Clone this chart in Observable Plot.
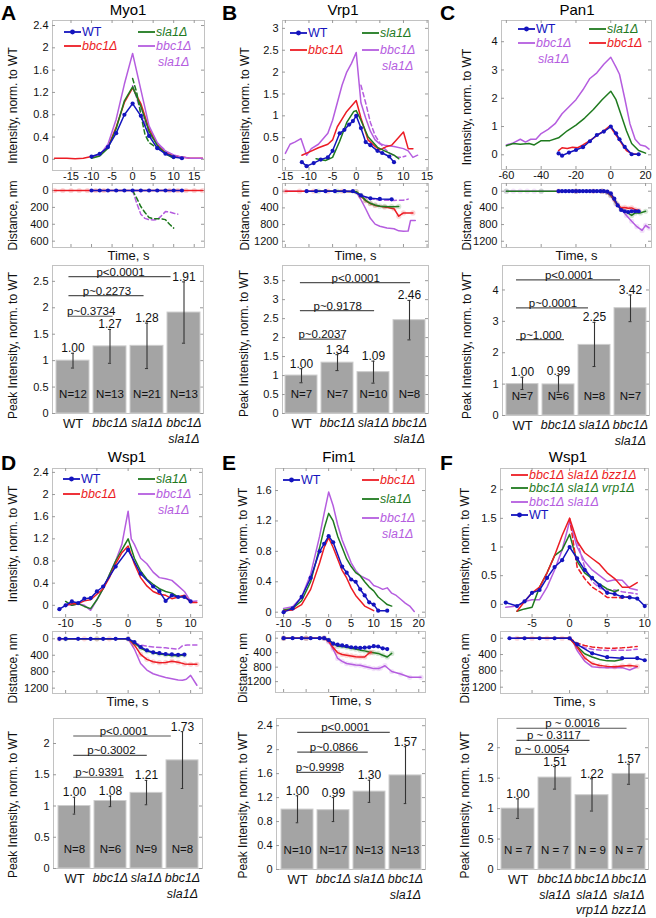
<!DOCTYPE html>
<html><head><meta charset="utf-8">
<script src="https://cdn.jsdelivr.net/npm/d3@7"></script>
<script src="https://cdn.jsdelivr.net/npm/@observablehq/plot@0.6"></script>
<style>
body{margin:0;background:#fff;}
#fig{position:relative;width:656px;height:918px;overflow:hidden;font-family:'Liberation Sans',Arial,sans-serif;background:#fff;}
.lbl{position:absolute;white-space:nowrap;line-height:1;}
</style></head><body><div id="fig"></div><script>
// ---------------- DATA ----------------
// Panel A: Myo1
const A_int_WT = [[-10,0.05],[-8,0.1],[-6,0.22],[-4,0.47],[-2,0.8],[0,1.0],[2,0.78],[4,0.42],[6,0.2],[8,0.1],[10,0.04],[12,0.02]];
const A_int_bbc1 = [[-19,0.02],[-16,0.02],[-14,0.01],[-12,0.02],[-10,0.05],[-8,0.08],[-6,0.22],[-4,0.58],[-2,1.02],[0,1.28],[2,1.0],[4,0.55],[6,0.26],[8,0.12],[10,0.07],[12,0.04],[14,0.02],[17,0.02]];
const A_int_sla1 = [[-10,0.02],[-8,0.06],[-6,0.2],[-4,0.55],[-2,1.05],[0,1.3],[2,0.95],[4,0.5],[6,0.25],[8,0.1],[10,0.02]];
const A_int_sla1_b = [[0,1.45],[1,1.2],[2,0.8],[3,0.45],[4,0.3],[6,0.2],[8,0.12],[10,0.04]];
const A_int_dbl = [[-10,0.03],[-8,0.08],[-6,0.27],[-4,0.72],[-2,1.35],[0,1.9],[2,1.25],[4,0.6],[6,0.3],[8,0.15],[10,0.08],[12,0.04],[14,0.02],[17,0.02]];
const A_int_dbl_b = [[0,1.32],[1,1.1],[2,0.85],[4,0.45],[6,0.28],[8,0.16]];
const A_dist_WT = [[-10,0],[-8,0],[-6,0],[-4,0],[-2,0],[0,0],[2,0],[4,0],[6,0],[8,0],[10,0],[12,0]];
const A_dist_bbc1 = [[-19,0],[-17,0],[-15,0],[-13,0],[-11,0],[-9,0],[-7,0],[9,0],[11,0],[13,0],[15,0],[17,0]];
const A_dist_sla1_b = [[0,0],[1,90],[2,190],[3,260],[4,320],[5,335],[6,335],[7,335],[8,345],[9,400],[10,445]];
const A_dist_dbl_b = [[0,0],[1,150],[2,280],[3,330],[4,345],[5,350],[6,345],[7,300],[8,250],[9,255],[10,270],[11,280]];
const A_cats = ["WT","bbc1Δ","sla1Δ","bbc1Δ\nsla1Δ"];
const A_peak = [1.00,1.27,1.28,1.91];
const A_lo = [0.86,0.95,0.85,1.33];
const A_hi = [1.14,1.59,1.71,2.49];
const A_N = ["N=12","N=13","N=21","N=13"];
const A_pText = ["p~0.3734","p~0.2273","p<0.0001"];
const A_pLevel = [1.84,2.23,2.59];

// Panel B: Vrp1
const B_int_WT = [[-11.5,-0.06],[-10.5,-0.15],[-9,-0.08],[-7.5,0.0],[-6,0.05],[-5,0.2],[-3.5,0.6],[-2.5,0.68],[-1.5,0.8],[-0.7,0.88],[0,1.0],[1,0.72],[2,0.4],[3,0.33],[4.5,0.2],[5.5,0.15],[7,0.07],[8,-0.06]];
const B_int_bbc1 = [[-11.5,0.1],[-10,0.17],[-8,0.27],[-6,0.35],[-5,0.45],[-4,0.75],[-2,1.1],[0,1.35],[1,0.95],[2.5,0.45],[4,0.3],[5,0.22],[6.5,0.3],[7.5,0.33],[8.5,0.45],[10,0.63],[11,0.25],[12,0.25]];
const B_int_sla1 = [[-8.5,0.02],[-6.5,-0.02],[-5,0.05],[-3.5,0.42],[-2,0.85],[-0.5,1.1],[0,1.12],[1,0.9],[2.5,0.52],[4.5,0.28],[6,0.2],[8,0.1],[9,0.02]];
const B_int_dbl = [[-15,0.14],[-14,0.35],[-13,0.4],[-11.7,0.48],[-10.5,0.1],[-9.5,0.25],[-8,0.35],[-6,0.6],[-5,0.9],[-4,1.3],[-3,1.7],[-2,2.0],[-1,2.2],[0,2.45],[1,1.3],[2,0.95],[3,0.65],[4,0.45],[5,0.36],[6,0.33],[8,0.3],[10,0.25],[11,0.2],[12,0.05],[13,0.1]];
const B_int_dbl_b = [[1,1.7],[2,1.3],[3,0.85],[4,0.55],[5,0.38],[6,0.25],[7,0.15],[8.5,0.06],[9.5,0.05],[10.5,0.08]];
const B_dist_WT = [[-10.5,0],[-8.5,0],[-6.5,0],[-4.5,0],[-2.5,0],[-0.7,0],[1,100],[3,170],[5,185],[7.5,195]];
const B_dist_bbc1 = [[-15,0],[-12,0],[-9,0],[-6,0],[-3,0],[0,10],[1,120],[2,230],[3,300],[4,340],[6,380],[8,420],[9,600],[10,520],[12,520]];
const B_dist_sla1 = [[-8,0],[-4,0],[0,10],[1,100],[2,220],[3,290],[4,330],[5,360],[6,365],[7.5,370],[9,365]];
const B_dist_dbl = [[-15,0],[-12,0],[-9,0],[-6,0],[-3,0],[0,20],[1,200],[2,420],[3,650],[4,790],[5,840],[6.5,880],[8,900],[9,950],[10,960],[11,955],[11.5,700],[12.5,700]];
const B_dist_dbl_b = [[0,20],[1,100],[2,150],[3,180],[4,200],[6,215],[8,220],[10,215],[11,190]];
const B_cats = ["WT","bbc1Δ","sla1Δ","bbc1Δ\nsla1Δ"];
const B_peak = [1.00,1.34,1.09,2.46];
const B_lo = [0.81,1.13,0.80,1.94];
const B_hi = [1.18,1.55,1.38,2.98];
const B_N = ["N=7","N=7","N=10","N=8"];
const B_pText = ["p~0.2037","p~0.9178","p<0.0001"];
const B_pLevel = [1.96,2.71,3.45];

// Panel C: Pan1
const C_int_WT = [[-30,0.05],[-28,-0.03],[-24,0.08],[-20,0.17],[-16,0.27],[-12,0.48],[-8,0.7],[-4,0.82],[0,1.0],[3,0.76],[5,0.55],[8,0.28],[12,0.02],[16,0.02]];
const C_int_bbc1 = [[-30,0.15],[-28,0.25],[-25,0.22],[-22,0.27],[-19,0.25],[-16,0.35],[-12,0.5],[-8,0.68],[-4,0.85],[-1,1.0],[0,0.97],[3,0.7],[6,0.42],[9,0.15],[12,0.04],[15,0.02]];
const C_int_sla1 = [[-60,0.32],[-56,0.4],[-52,0.37],[-47,0.4],[-44,0.35],[-40,0.5],[-35,0.5],[-30,0.6],[-25,0.85],[-20,1.05],[-15,1.3],[-10,1.6],[-5,1.95],[0,2.25],[3,1.95],[6,1.4],[9,0.85],[12,0.4],[16,0.15],[20,0.06]];
const C_int_dbl = [[-60,0.35],[-56,0.42],[-52,0.55],[-49,0.45],[-46,0.55],[-43,0.55],[-40,0.75],[-36,0.9],[-32,1.1],[-28,1.45],[-24,1.7],[-20,1.95],[-16,2.3],[-12,2.7],[-8,2.9],[-4,3.2],[0,3.45],[3,3.1],[5,2.85],[8,2.0],[11,1.1],[14,0.55],[17,0.35],[20,0.3],[22,0.2]];
const C_dist_WT = [[-30,0],[-28,0],[-26,0],[-24,0],[-22,0],[-20,0],[-18,0],[-16,0],[-14,0],[-12,0],[-10,0],[-8,0],[-6,0],[-4,0],[-2,10],[0,50],[2,180],[4,340],[6,450],[8,480],[10,500],[12,480],[14,480],[16,480]];
const C_dist_bbc1 = [[-30,0],[-20,0],[-10,0],[-5,0],[-2,20],[0,80],[2,200],[4,330],[6,400],[8,390],[10,410],[12,400],[14,440],[16,460]];
const C_dist_sla1 = [[-60,0],[-40,0],[-20,0],[-5,0],[-2,30],[0,100],[3,280],[6,430],[9,500],[12,580],[14,520],[17,520],[20,480]];
const C_dist_dbl = [[-60,0],[-56,0],[-52,0],[-48,0],[-44,0],[-40,0],[-20,0],[-5,0],[-2,30],[0,110],[3,300],[6,440],[9,580],[12,720],[15,850],[18,940],[20,820],[22,880]];
const C_cats = ["WT","bbc1Δ","sla1Δ","bbc1Δ\nsla1Δ"];
const C_peak = [1.00,0.99,2.25,3.42];
const C_lo = [0.83,0.74,1.56,2.99];
const C_hi = [1.22,1.27,2.97,3.84];
const C_N = ["N=7","N=6","N=8","N=7"];
const C_pText = ["p~1.000","p~0.0001","p<0.0001"];
const C_pLevel = [2.42,3.43,4.32];

// Panel D: Wsp1
const D_int_WT = [[-11,-0.07],[-10,0.0],[-9,0.07],[-8,0.04],[-7,0.12],[-6,0.13],[-5,0.25],[-4,0.34],[-2,0.7],[0,1.0],[2,0.57],[4,0.34],[5,0.25],[6,0.08],[7,0.18],[8,0.15],[9,0.15],[10,0.07]];
const D_int_bbc1 = [[-10,0.0],[-9,0.03],[-8,0.03],[-7,0.08],[-6,0.1],[-5,0.2],[-4,0.3],[-3,0.5],[-2,0.75],[-1,0.95],[0,1.07],[1,0.75],[2,0.5],[3,0.35],[4,0.25],[5,0.2],[6,0.18],[7,0.12],[8,0.15],[9,0.18],[10,0.05],[11,0.05]];
const D_int_sla1 = [[-10,0.07],[-9,0.0],[-8,0.03],[-7,-0.02],[-6,-0.06],[-5,0.1],[-4,0.3],[-3,0.55],[-2,0.8],[-1,1.0],[0,1.2],[1,0.85],[2,0.62],[3,0.47],[4,0.38],[5,0.3],[6,0.25],[7,0.22],[8,0.15],[9,0.17]];
const D_int_dbl = [[-10,0.02],[-9,0.0],[-8,0.03],[-7,0.0],[-6,-0.09],[-5,0.1],[-4,0.3],[-3,0.55],[-2,0.8],[-1,1.1],[0,1.7],[0.5,1.2],[1,1.1],[2,0.85],[3,0.75],[4,0.6],[5,0.5],[6,0.48],[7,0.45],[8,0.35],[9,0.25],[10,0.07],[11,0.08]];
const D_dist_WT = [[-11,0],[-10,0],[-8,0],[-6,0],[-4,0],[-2,0],[0,0],[1,80],[2,200],[3,280],[4,330],[5,350],[6,370],[7,380],[8,390],[9,385]];
const D_dist_bbc1 = [[-11,0],[-7,0],[-5,0],[-3,0],[0,0],[1,150],[2,380],[3,500],[4,560],[5,580],[6,575],[7,545],[8,570],[9,610],[10,620],[11,620]];
const D_dist_sla1 = [[-10,0],[-5,0],[0,0],[1,100],[2,230],[3,300],[4,340],[5,370],[6,390],[7,405],[8,410],[9,395]];
const D_dist_dbl = [[-10,0],[-5,0],[0,0],[1,250],[2,600],[3,760],[4,850],[5,900],[6,940],[7,970],[8,1000],[8.7,1010],[9.3,985],[10,890],[11,1130]];
const D_dist_dbl_b = [[0,10],[1,100],[2,150],[3,180],[4,200],[6,220],[8,255],[8.7,170],[9.5,150],[11,150]];
const D_cats = ["WT","bbc1Δ","sla1Δ","bbc1Δ\nsla1Δ"];
const D_peak = [1.00,1.08,1.21,1.73];
const D_lo = [0.87,0.99,1.02,1.28];
const D_hi = [1.14,1.16,1.41,2.19];
const D_N = ["N=8","N=6","N=9","N=8"];
const D_pText = ["p~0.9391","p~0.3002","p<0.0001"];
const D_pLevel = [1.46,1.81,2.12];

// Panel E: Fim1
const E_int_WT = [[-10,0.0],[-8,0.05],[-6,0.2],[-4,0.45],[-2,0.8],[-1,0.9],[0,1.0],[1,0.92],[3,0.6],[4,0.52],[5,0.43],[6,0.4],[7,0.3],[8,0.22],[9,0.13],[10,0.1],[11,0.02],[13,0.02]];
const E_int_bbc1 = [[-10,0.02],[-8,0.03],[-6,0.1],[-4,0.3],[-2,0.65],[-1,0.85],[0,0.98],[1,0.85],[2,0.7],[3,0.55],[4,0.45],[5,0.32],[6,0.22],[7,0.15],[8,0.08],[9,0.05],[10,0.02]];
const E_int_sla1 = [[-10,0.03],[-8,0.05],[-6,0.15],[-4,0.4],[-2,0.85],[-1,1.1],[0,1.3],[1,1.2],[2,1.0],[3,0.85],[4,0.7],[5,0.6],[6,0.52],[7,0.48],[8,0.4],[9,0.33],[10,0.28],[11,0.2],[12,0.15],[13,0.1],[14,0.08]];
const E_int_dbl = [[-10,0.05],[-8,0.07],[-6,0.2],[-4,0.5],[-2,1.0],[-1,1.3],[0,1.58],[1,1.4],[2,1.15],[3,0.95],[4,0.8],[5,0.65],[6,0.55],[7,0.48],[8,0.45],[9,0.42],[10,0.35],[11,0.33],[12,0.3],[13,0.32],[14,0.25],[15,0.22],[16,0.17],[17,0.12],[18,0.08],[19,0.01]];
const E_dist_WT = [[-10,0],[-8,0],[-6,0],[-4,0],[-2,0],[-1,0],[0,50],[1,150],[2,180],[3,200],[4,220],[5,250],[6,260],[7,270],[8,260],[9,250],[10,220],[11,230],[12,280],[13,300]];
const E_dist_bbc1 = [[-10,0],[-5,0],[-1,0],[0,80],[1,260],[2,400],[3,450],[4,470],[5,490],[6,510],[7,520],[8,520],[9,410],[9.5,390]];
const E_dist_sla1 = [[-10,0],[-5,0],[-1,0],[0,50],[1,150],[2,220],[3,230],[4,250],[5,280],[6,300],[7,330],[8,350],[9,380],[10,400],[11,420],[12,470],[13,520],[14,420]];
const E_dist_dbl = [[-10,0],[-5,0],[-1,0],[0,100],[1,300],[2,560],[3,640],[4,700],[5,720],[6,740],[7,750],[8,780],[9,810],[10,840],[11,840],[11.5,820],[12.5,760],[14,920],[16,990],[18,1080],[20.5,1080]];
const E_cats = ["WT","bbc1Δ","sla1Δ","bbc1Δ\nsla1Δ"];
const E_peak = [1.00,0.99,1.30,1.57];
const E_lo = [0.78,0.80,1.12,1.10];
const E_hi = [1.23,1.20,1.49,2.05];
const E_N = ["N=10","N=17","N=13","N=13"];
const E_pText = ["p~0.9998","p~0.0866","p<0.0001"];
const E_pLevel = [1.62,1.96,2.29];

// Panel F: Wsp1
const F_int_WT = [[-8.5,0.03],[-7,-0.03],[-6,0.05],[-5,0.2],[-4,0.25],[-3,0.46],[-2,0.65],[-1,0.77],[0,1.0],[1,0.8],[2,0.6],[3,0.46],[4,0.33],[5,0.2],[6,0.18],[7,0.13],[8,0.12],[9,0.1],[10,-0.03]];
const F_int_bzz1 = [[-7,-0.12],[-6,0.05],[-5,0.2],[-4,0.3],[-3,0.55],[-2,0.85],[-1,1.2],[0,1.5],[1,1.1],[2,0.9],[3,0.8],[4,0.7],[5,0.55],[6,0.45],[7,0.3],[8,0.3],[9,0.38]];
const F_int_bzz1_b = [[0,1.5],[1,0.65],[2,0.45],[3,0.3],[4,0.22],[5,0.12],[6,0.12],[7,0.11],[8,0.14]];
const F_int_vrp1 = [[-7,-0.12],[-6,-0.08],[-5,-0.05],[-4,0.3],[-3,0.55],[-2,0.85],[-1,0.95],[0,1.22],[1,0.75],[2,0.55],[3,0.45],[4,0.35],[5,0.27],[6,0.22],[6.5,0.25]];
const F_int_dbl = [[-8.5,-0.05],[-7,-0.03],[-6,0.05],[-5,0.08],[-4,0.08],[-3,0.3],[-2,0.6],[-1,0.95],[0,1.45],[1,1.0],[2,0.75],[3,0.6],[4,0.5],[5,0.4],[6,0.43],[7,0.42],[8,0.28],[9,0.25]];
const F_int_dbl_b = [[1,1.1],[2,0.65],[3,0.4],[4,0.28],[5,0.25],[6,0.25],[7,0.22],[8,0.2],[9,0.18]];
const F_dist_WT = [[-8,0],[-6,0],[-4,0],[-2,0],[0,0],[1,150],[3,370],[5,465],[7,490],[9,490],[10,540]];
const F_dist_bzz1 = [[-7,0],[-5,0],[-3,0],[-1,0],[0,0],[1,220],[2,480],[3,620],[4,670],[5,690],[6,700],[7,680],[8,670],[9,690]];
const F_dist_vrp1 = [[-7,0],[0,0],[1,200],[2,380],[3,460],[4,520],[5,555],[6,560],[7,520]];
const F_dist_dbl = [[-8,0],[0,0],[0.5,100],[1,300],[2,560],[3,700],[4,720],[5,725],[6,725],[7,720],[8,780],[9,700]];
const F_dist_bzz1_b = [[0,0],[1,120],[2,180],[3,215],[4,235],[5,245],[6,245],[7,235],[8,220],[9,200]];
const F_dist_dbl_b = [[0,0],[1,150],[2,230],[3,270],[4,290],[5,300],[6,295],[7,295],[8,290],[9,270]];
const F_cats = ["WT","bbc1Δ\nsla1Δ","bbc1Δ\nsla1Δ\nvrp1Δ","bbc1Δ\nsla1Δ\nbzz1Δ"];
const F_peak = [1.00,1.51,1.22,1.57];
const F_lo = [0.84,1.32,0.96,1.40];
const F_hi = [1.16,1.69,1.49,1.73];
const F_N = ["N = 7","N = 7","N = 9","N = 7"];
const F_pText = ["p ~ 0.0054","p ~ 0.3117","p ~ 0.0016"];
const F_pLevel = [1.89,2.12,2.32];

// ---------------- STYLE / LAYOUT ----------------
const COL = {blue:"#1414be", red:"#ec1c24", green:"#1f7a1f", violet:"#b55ddf"};
const FONT = "'Liberation Sans', Arial, sans-serif";
const FRAME = "#c2c2c2";
const fig = document.getElementById("fig");

function place(el, left, top) {
  el.style.position = "absolute"; el.style.left = left + "px"; el.style.top = top + "px";
  fig.appendChild(el);
}
function edgeTicks(xt, yt, iw, ih, len) {
  const m = [];
  if (xt) {
    m.push(Plot.tickX(xt, {x: d => d, insetTop: ih - len, stroke: "#999"}));
    m.push(Plot.tickX(xt, {x: d => d, insetBottom: ih - len, stroke: "#999"}));
  }
  m.push(Plot.tickY(yt, {y: d => d, insetRight: iw - len, stroke: "#999"}));
  m.push(Plot.tickY(yt, {y: d => d, insetLeft: iw - len, stroke: "#999"}));
  return m;
}
function yLabel(str, dx, dy) {
  return Plot.text([str], {text: d => d, frameAnchor: "left", textAnchor: "middle", lineAnchor: "middle", rotate: -90, dx, dy, fontSize: 12});
}

function linePanel(c) {
  const [x0, y0, x1, y1] = c.frame;
  const left = x0 - 50, top = y0 - 2, right = x1 + 6;
  const bottom = y1 + (c.xLabels ? 16 : (c.timeLabel ? 20 : 2));
  const iw = x1 - x0, ih = y1 - y0;
  const marks = [Plot.frame({stroke: FRAME})];
  marks.push(...edgeTicks(c.xMinor, c.yTicks, iw, ih, 3));
  for (const s of c.series) {
    if (s.faint) marks.push(Plot.dot(s.data, {x: d => d[0], y: d => d[1], r: 2.6, fill: s.color, fillOpacity: 0.18}));
    marks.push(Plot.line(s.data, {x: d => d[0], y: d => d[1], stroke: s.color, strokeWidth: 1.5,
      strokeDasharray: s.dash ? "4.5,3" : null}));
    if (s.dot) marks.push(Plot.dot(s.data, {x: d => d[0], y: d => d[1], r: 2.1, fill: s.color}));
  }
  marks.push(Plot.axisY({ticks: c.yTicks, tickSize: 0, tickPadding: 4, fontSize: 11, label: null, tickFormat: d => String(d)}));
  if (c.xLabels) marks.push(Plot.axisX({ticks: c.xTicks, tickSize: 0, tickPadding: 2, fontSize: 11, label: null, tickFormat: d => String(d)}));
  marks.push(yLabel(c.ylabel, c.ldx, c.ldy));
  if (c.timeLabel) marks.push(Plot.text(["Time, s"], {text: d => d, frameAnchor: "bottom", textAnchor: "middle", lineAnchor: "top", dy: 3, fontSize: 13}));
  const p = Plot.plot({
    width: right - left, height: bottom - top,
    marginLeft: x0 - left, marginRight: right - x1, marginTop: y0 - top, marginBottom: bottom - y1,
    x: {domain: c.xDomain, axis: c.xLabels ? undefined : null},
    y: {domain: c.yDomain, reverse: !!c.reverse},
    style: {fontFamily: FONT, fontSize: "11px", background: "transparent", color: "#111", overflow: "visible"},
    marks
  });
  place(p, left, top);
}

function barPanel(c) {
  const [x0, y0, x1, y1] = c.frame;
  const left = x0 - 50, top = y0 - 2, right = x1 + 6;
  const nLines = d3.max(c.cats, s => s.split("\n").length);
  const bottom = y1 + 6 + nLines * 16;
  const iw = x1 - x0, ih = y1 - y0;
  const pi = 0.12, po = 0.08, n = c.cats.length;
  const step = iw / (n - pi + 2 * po), bw = step * (1 - pi);
  const data = c.cats.map((k, i) => ({k, v: c.peak[i], lo: c.lo[i], hi: c.hi[i], n: c.N[i], lab: d3.format(".2f")(c.peak[i])}));
  const marks = [Plot.frame({stroke: FRAME})];
  marks.push(...edgeTicks(null, c.yTicks, iw, ih, 3));
  marks.push(Plot.barY(data, {x: "k", y: "v", fill: "#a4a4a4", stroke: "#cdcdcd", strokeWidth: 1}));
  marks.push(Plot.ruleX(data, {x: "k", y1: "lo", y2: "hi", stroke: "#333", strokeWidth: 1.1}));
  marks.push(Plot.tickY(data, {x: "k", y: "lo", insetLeft: bw / 2 - 1.5, insetRight: bw / 2 - 1.5, stroke: "#333"}));
  marks.push(Plot.tickY(data, {x: "k", y: "hi", insetLeft: bw / 2 - 1.5, insetRight: bw / 2 - 1.5, stroke: "#333"}));
  marks.push(Plot.text(data, {x: "k", y: "hi", text: "lab", lineAnchor: "bottom", dy: -1, fontSize: 12}));
  marks.push(Plot.text(data, {x: "k", text: "n", frameAnchor: "bottom", textAnchor: "middle", dy: -16, fontSize: 11.5}));
  c.pText.forEach((t, j) => {
    const to = j + 1;
    const s0 = c.pStart, e0 = c.pEnd[j];
    const row = [{t, y: c.pLevel[j], a: c.cats[0], b: c.cats[to]}];
    marks.push(Plot.ruleY(row, {x1: "a", x2: "b", y: "y", insetLeft: bw / 2 + s0, insetRight: bw / 2 - e0, stroke: "#555", strokeWidth: 1.2}));
    marks.push(Plot.text(row, {x: "a", y: "y", text: "t", dx: (to * step + e0 + s0) / 2, lineAnchor: "bottom", dy: -1, fontSize: 11.5}));
  });
  marks.push(Plot.text(data.filter(d => d.k === "WT"), {x: "k", text: "k", frameAnchor: "bottom", textAnchor: "middle", lineAnchor: "top", dy: 3, fontSize: 13, lineHeight: 1.2}));
  marks.push(Plot.text(data.filter(d => d.k !== "WT"), {x: "k", text: "k", frameAnchor: "bottom", textAnchor: "middle", lineAnchor: "top", dy: 3, fontSize: 12.5, lineHeight: 1.22, fontStyle: "italic"}));
  marks.push(Plot.axisY({ticks: c.yTicks, tickSize: 0, tickPadding: 4, fontSize: 11, label: null, tickFormat: d => String(d)}));
  marks.push(yLabel("Peak Intensity, norm. to WT", c.ldx, c.ldy));
  const p = Plot.plot({
    width: right - left, height: bottom - top,
    marginLeft: x0 - left, marginRight: right - x1, marginTop: y0 - top, marginBottom: bottom - y1,
    x: {domain: c.cats, paddingInner: pi, paddingOuter: po, axis: null},
    y: {domain: c.yDomain},
    style: {fontFamily: FONT, fontSize: "11px", background: "transparent", color: "#111", overflow: "visible"},
    marks
  });
  place(p, left, top);
}

function text(str, x, y, opts = {}) {
  const d = document.createElement("div");
  d.className = "lbl";
  d.textContent = str;
  d.style.fontSize = (opts.size || 13) + "px";
  if (opts.bold) d.style.fontWeight = "bold";
  if (opts.italic) d.style.fontStyle = "italic";
  if (opts.color) d.style.color = opts.color;
  d.style.left = x + "px"; d.style.top = y + "px";
  if (opts.center) d.style.transform = "translate(-50%,-50%)";
  else d.style.transform = "translate(0,-50%)";
  fig.appendChild(d);
}
function legendItem(x, y, color, lines, {dot = false, italic = true} = {}) {
  const ns = "http://www.w3.org/2000/svg";
  const s = document.createElementNS(ns, "svg");
  s.setAttribute("width", 20); s.setAttribute("height", 8);
  s.style.position = "absolute"; s.style.left = x + "px"; s.style.top = (y - 4) + "px";
  const l = document.createElementNS(ns, "line");
  l.setAttribute("x1", 0); l.setAttribute("x2", 17); l.setAttribute("y1", 4); l.setAttribute("y2", 4);
  l.setAttribute("stroke", color); l.setAttribute("stroke-width", 1.8);
  s.appendChild(l);
  if (dot) {
    const c = document.createElementNS(ns, "circle");
    c.setAttribute("cx", 8.5); c.setAttribute("cy", 4); c.setAttribute("r", 2.4); c.setAttribute("fill", color);
    s.appendChild(c);
  }
  fig.appendChild(s);
  lines.forEach((t, i) => text(t, x + 18 + (i ? 2 : 0), y + i * 16, {color, italic: italic, size: 12.5}));
}

// ---------------- PANELS ----------------
const S = (data, color, o = {}) => ({data, color, ...o});

// A
linePanel({frame: [52, 20, 204, 170], xDomain: [-19.5, 17.5], yDomain: [-0.2, 2.49], yTicks: [0,0.4,0.8,1.2,1.6,2,2.4],
  xTicks: [-15,-10,-5,0,5,10,15], xMinor: [-15,-10,-5,0,5,10,15], xLabels: true, ylabel: "Intensity, norm. to WT", ldx: -39, ldy: 10,
  series: [S(A_int_bbc1, COL.red), S(A_int_dbl, COL.violet), S(A_int_dbl_b, COL.violet, {dash: true}), S(A_int_sla1, COL.green),
    S(A_int_sla1_b, COL.green, {dash: true}), S(A_int_WT, COL.blue, {dot: true})]});
linePanel({frame: [52, 183, 204, 247], xDomain: [-19.5, 17.5], yDomain: [-83, 675], reverse: true, yTicks: [0,200,400,600],
  xMinor: [-15,-10,-5,0,5,10,15], timeLabel: true, ylabel: "Distance, nm", ldx: -39, ldy: 0,
  series: [S(A_dist_bbc1, COL.red, {faint: true}), S(A_dist_dbl_b, COL.violet, {dash: true}), S(A_dist_sla1_b, COL.green, {dash: true}),
    S(A_dist_WT, COL.blue, {dot: true})]});
barPanel({frame: [52, 265, 203, 413], cats: A_cats, peak: A_peak, lo: A_lo, hi: A_hi, N: A_N, pText: A_pText, pLevel: A_pLevel,
  pStart: -4, pEnd: [3, -3, -13], yDomain: [0, 2.8], yTicks: [0,0.5,1,1.5,2,2.5], ldx: -39, ldy: 6});

// B
linePanel({frame: [282, 20, 428, 170], xDomain: [-15.6, 15.3], yDomain: [-0.25, 3.18], yTicks: [0,0.5,1,1.5,2,2.5,3],
  xTicks: [-15,-10,-5,0,5,10,15], xMinor: [-15,-10,-5,0,5,10,15], xLabels: true, ylabel: "Intensity, norm. to WT", ldx: -37, ldy: 10,
  series: [S(B_int_dbl, COL.violet), S(B_int_dbl_b, COL.violet, {dash: true}), S(B_int_bbc1, COL.red), S(B_int_sla1, COL.green),
    S(B_int_WT, COL.blue, {dot: true})]});
linePanel({frame: [282, 183, 428, 247], xDomain: [-15.6, 15.3], yDomain: [-185, 1350], reverse: true, yTicks: [0,400,800,1200],
  xMinor: [-15,-10,-5,0,5,10,15], timeLabel: true, ylabel: "Distance, nm", ldx: -37, ldy: 0,
  series: [S(B_dist_dbl, COL.violet), S(B_dist_dbl_b, COL.violet, {dash: true}), S(B_dist_bbc1, COL.red, {faint: true}),
    S(B_dist_sla1, COL.green, {faint: true}), S(B_dist_WT, COL.blue, {dot: true})]});
barPanel({frame: [282, 265, 428, 413], cats: B_cats, peak: B_peak, lo: B_lo, hi: B_hi, N: B_N, pText: B_pText, pLevel: B_pLevel,
  pStart: -1, pEnd: [7, 1, 1], yDomain: [0, 3.9], yTicks: [0,0.5,1,1.5,2,2.5,3,3.5], ldx: -38, ldy: 4});

// C
linePanel({frame: [501, 20, 651, 169], xDomain: [-62.8, 23.4], yDomain: [-0.52, 4.75], yTicks: [0,1,2,3,4],
  xTicks: [-60,-40,-20,0,20], xMinor: [-60,-40,-20,0,20], xLabels: true, ylabel: "Intensity, norm. to WT", ldx: -34, ldy: 12,
  series: [S(C_int_dbl, COL.violet), S(C_int_sla1, COL.green), S(C_int_bbc1, COL.red), S(C_int_WT, COL.blue, {dot: true})]});
linePanel({frame: [501, 183, 651, 247], xDomain: [-62.8, 23.4], yDomain: [-185, 1350], reverse: true, yTicks: [0,400,800,1200],
  xMinor: [-60,-40,-20,0,20], timeLabel: true, ylabel: "Distance, nm", ldx: -34, ldy: 0,
  series: [S(C_dist_dbl, COL.violet, {faint: true}), S(C_dist_sla1, COL.green, {faint: true}), S(C_dist_bbc1, COL.red, {faint: true}),
    S(C_dist_WT, COL.blue, {dot: true})]});
barPanel({frame: [502, 265, 649, 415], cats: C_cats, peak: C_peak, lo: C_lo, hi: C_hi, N: C_N, pText: C_pText, pLevel: C_pLevel,
  pStart: -6, pEnd: [6, -6, -10], yDomain: [0, 4.78], yTicks: [0,1,2,3,4], ldx: -35, ldy: 5});

// D
linePanel({frame: [52, 468, 202, 617], xDomain: [-12.1, 11.9], yDomain: [-0.22, 2.47], yTicks: [0,0.4,0.8,1.2,1.6,2,2.4],
  xTicks: [-10,-5,0,5,10], xMinor: [-10,-5,0,5,10], xLabels: true, ylabel: "Intensity, norm. to WT", ldx: -39, ldy: 1,
  series: [S(D_int_dbl, COL.violet), S(D_int_sla1, COL.green), S(D_int_bbc1, COL.red), S(D_int_WT, COL.blue, {dot: true})]});
linePanel({frame: [52, 631, 202, 693], xDomain: [-12.1, 11.9], yDomain: [-177, 1330], reverse: true, yTicks: [0,400,800,1200],
  xMinor: [-10,-5,0,5,10], timeLabel: true, ylabel: "Distance, nm", ldx: -39, ldy: 6,
  series: [S(D_dist_dbl, COL.violet), S(D_dist_dbl_b, COL.violet, {dash: true}), S(D_dist_bbc1, COL.red, {faint: true}),
    S(D_dist_sla1, COL.green, {faint: true}), S(D_dist_WT, COL.blue, {dot: true})]});
barPanel({frame: [53, 718, 202, 868], cats: D_cats, peak: D_peak, lo: D_lo, hi: D_hi, N: D_N, pText: D_pText, pLevel: D_pLevel,
  pStart: -1, pEnd: [14, 1, -11], yDomain: [0, 2.4], yTicks: [0,0.5,1,1.5,2], ldx: -40, ldy: 11});

// E
linePanel({frame: [275, 468, 425, 617], xDomain: [-11.8, 21.5], yDomain: [-0.07, 1.89], yTicks: [0,0.4,0.8,1.2,1.6],
  xTicks: [-10,-5,0,5,10,15,20], xMinor: [-10,-5,0,5,10,15,20], xLabels: true, ylabel: "Intensity, norm. to WT", ldx: -32, ldy: 3,
  series: [S(E_int_dbl, COL.violet), S(E_int_sla1, COL.green), S(E_int_bbc1, COL.red), S(E_int_WT, COL.blue, {dot: true})]});
linePanel({frame: [275, 631, 425, 692], xDomain: [-11.8, 21.5], yDomain: [-185, 1500], reverse: true, yTicks: [0,400,800,1200],
  xMinor: [-10,-5,0,5,10,15,20], timeLabel: true, ylabel: "Distance, nm", ldx: -32, ldy: 6,
  series: [S(E_dist_dbl, COL.violet, {faint: true}), S(E_dist_sla1, COL.green, {faint: true}), S(E_dist_bbc1, COL.red, {faint: true}),
    S(E_dist_WT, COL.blue, {dot: true})]});
barPanel({frame: [276, 718, 425, 869], cats: E_cats, peak: E_peak, lo: E_lo, hi: E_hi, N: E_N, pText: E_pText, pLevel: E_pLevel,
  pStart: 0, pEnd: [8, -1, -15], yDomain: [0, 2.52], yTicks: [0,0.4,0.8,1.2,1.6,2,2.4], ldx: -33, ldy: 11});

// F
linePanel({frame: [500, 468, 648, 617], xDomain: [-9.2, 10.5], yDomain: [-0.23, 2.37], yTicks: [0,0.5,1,1.5,2],
  xTicks: [-5,0,5,10], xMinor: [-5,0,5,10], xLabels: true, ylabel: "Intensity, norm. to WT", ldx: -35, ldy: 3,
  series: [S(F_int_dbl, COL.violet), S(F_int_dbl_b, COL.violet, {dash: true}), S(F_int_vrp1, COL.green), S(F_int_bzz1, COL.red),
    S(F_int_bzz1_b, COL.red, {dash: true}), S(F_int_WT, COL.blue, {dot: true})]});
linePanel({frame: [500, 631, 648, 693], xDomain: [-9.2, 10.5], yDomain: [-165, 1355], reverse: true, yTicks: [0,400,800,1200],
  xMinor: [-5,0,5,10], timeLabel: true, ylabel: "Distance, nm", ldx: -35, ldy: 6,
  series: [S(F_dist_dbl, COL.violet), S(F_dist_dbl_b, COL.violet, {dash: true}), S(F_dist_vrp1, COL.green), S(F_dist_bzz1, COL.red, {faint: true}),
    S(F_dist_bzz1_b, COL.red, {dash: true}), S(F_dist_WT, COL.blue, {dot: true})]});
barPanel({frame: [497, 718, 648, 869], cats: F_cats, peak: F_peak, lo: F_lo, hi: F_hi, N: F_N, pText: F_pText, pLevel: F_pLevel,
  pStart: -1, pEnd: [12, -2, -2], yDomain: [0, 2.48], yTicks: [0,0.5,1,1.5,2], ldx: -32, ldy: 11});

// ---------------- TITLES, LETTERS, LEGENDS ----------------
[["A",1,12],["B",222,12],["C",440,12],["D",1,462],["E",222,462],["F",440,462]].forEach(([t,x,y]) => text(t, x, y, {bold: true, size: 21}));
[["Myo1",128,9],["Vrp1",343,9],["Pan1",577,9],["Wsp1",127,456],["Fim1",339,456],["Wsp1",568,456]].forEach(([t,x,y]) => text(t, x, y, {center: true, size: 15}));

legendItem(64, 31.5, COL.blue, ["WT"], {dot: true, italic: false});
legendItem(64, 46, COL.red, ["bbc1Δ"]);
legendItem(138, 31.5, COL.green, ["sla1Δ"]);
legendItem(138, 46, COL.violet, ["bbc1Δ", "sla1Δ"]);

legendItem(290, 33, COL.blue, ["WT"], {dot: true, italic: false});
legendItem(290, 50, COL.red, ["bbc1Δ"]);
legendItem(362, 33, COL.green, ["sla1Δ"]);
legendItem(362, 50, COL.violet, ["bbc1Δ", "sla1Δ"]);

legendItem(518, 28.5, COL.blue, ["WT"], {dot: true, italic: false});
legendItem(518, 43, COL.violet, ["bbc1Δ", "sla1Δ"]);
legendItem(589, 28.5, COL.green, ["sla1Δ"]);
legendItem(589, 43, COL.red, ["bbc1Δ"]);

legendItem(63, 479, COL.blue, ["WT"], {dot: true, italic: false});
legendItem(63, 494, COL.red, ["bbc1Δ"]);
legendItem(138, 479, COL.green, ["sla1Δ"]);
legendItem(138, 494, COL.violet, ["bbc1Δ", "sla1Δ"]);

legendItem(283, 480, COL.blue, ["WT"], {dot: true, italic: false});
legendItem(362, 480, COL.red, ["bbc1Δ"]);
legendItem(362, 499, COL.green, ["sla1Δ"]);
legendItem(362, 518, COL.violet, ["bbc1Δ", "sla1Δ"]);

legendItem(511, 474.5, COL.red, ["bbc1Δ sla1Δ bzz1Δ"]);
legendItem(511, 488, COL.green, ["bbc1Δ sla1Δ vrp1Δ"]);
legendItem(511, 501.5, COL.violet, ["bbc1Δ sla1Δ"]);
legendItem(511, 515, COL.blue, ["WT"], {dot: true, italic: false});
</script></body></html>
